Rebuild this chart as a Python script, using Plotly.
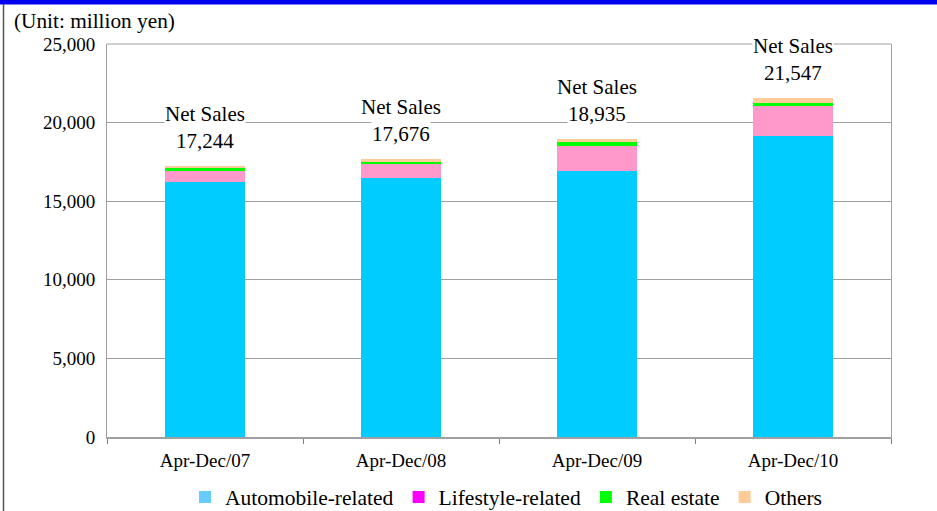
import plotly.graph_objects as go

categories = ["Apr-Dec/07", "Apr-Dec/08", "Apr-Dec/09", "Apr-Dec/10"]
automobile = [16250, 16480, 16930, 19150]
lifestyle = [700, 900, 1580, 1900]
real_estate = [140, 130, 250, 190]
others = [154, 166, 175, 307]
net_sales = [17244, 17676, 18935, 21547]

series_names = ["Automobile-related", "Lifestyle-related", "Real estate", "Others"]
bar_colors = ["#00CCFF", "#FF99CC", "#00FF00", "#FFCC99"]
legend_colors = ["#66CCFF", "#FF00FF", "#00FF00", "#FFCC99"]

FONT = "Liberation Serif"

W, H = 937, 511
L, R, T, B = 107, 46, 44, 74
pw, ph = W - L - R, H - T - B

def px2x(p):
    return (p - L) / pw

def px2y(p):
    return (H - B - p) / ph

fig = go.Figure()
for name, vals, col in zip(series_names, [automobile, lifestyle, real_estate, others], bar_colors):
    fig.add_trace(go.Bar(x=categories, y=vals, name=name, marker=dict(color=col, line=dict(width=0)),
                         showlegend=False, width=0.41))
for name, col in zip(series_names, legend_colors):
    fig.add_trace(go.Scatter(x=[None], y=[None], mode="markers", name=name,
                             marker=dict(symbol="square", size=12, color=col)))

for c, v in zip(categories, net_sales):
    fig.add_annotation(x=c, y=v, yref="y", text="Net Sales", showarrow=False, bgcolor="white",
                       borderpad=0, yanchor="bottom", yshift=39,
                       font=dict(family=FONT, size=21, color="#000"))
    fig.add_annotation(x=c, y=v, yref="y", text=f"{v:,}", showarrow=False, bgcolor="white",
                       borderpad=0, yanchor="bottom", yshift=12,
                       font=dict(family=FONT, size=21, color="#000"))

fig.add_annotation(x=px2x(12), y=px2y(21), xref="paper", yref="paper", text="(Unit: million yen)",
                   showarrow=False, xanchor="left", yanchor="middle",
                   font=dict(family=FONT, size=21.3, color="#000"))

# top blue band and left frame line
fig.add_shape(type="rect", xref="paper", yref="paper", x0=px2x(0), x1=px2x(W), y0=px2y(4.5), y1=px2y(0),
              fillcolor="#0000EE", line=dict(width=0), layer="above")
fig.add_shape(type="line", xref="paper", yref="paper", x0=px2x(3.5), x1=px2x(3.5), y0=px2y(4), y1=px2y(H),
              line=dict(color="#555555", width=1.5))

fig.update_layout(
    width=W, height=H, barmode="stack",
    margin=dict(l=L, r=R, t=T, b=B, autoexpand=False),
    paper_bgcolor="white", plot_bgcolor="white",
    font=dict(family=FONT, color="#000", size=19),
    legend=dict(orientation="h", x=px2x(506), xanchor="center", y=px2y(497), yanchor="middle",
                font=dict(family=FONT, size=21.5), itemsizing="constant", traceorder="normal"),
    xaxis=dict(showline=True, linecolor="#A0A0A0", linewidth=2, mirror=False, ticks="outside",
               tickson="boundaries", ticklen=5, tickcolor="#808080",
               tickfont=dict(family=FONT, size=19), ticklabelstandoff=5, showgrid=False),
    yaxis=dict(range=[0, 25000], dtick=5000, tickformat=",", showgrid=True, gridcolor="#A0A0A0",
               gridwidth=1, showline=True, linecolor="#A0A0A0", linewidth=1, mirror=True,
               ticks="", tickfont=dict(family=FONT, size=19), ticklabelstandoff=7, zeroline=False),
)
fig.add_shape(type="line", xref="paper", yref="paper", x0=0, x1=1, y0=1, y1=1,
              line=dict(color="#A0A0A0", width=1))

fig.write_html("out.html")
